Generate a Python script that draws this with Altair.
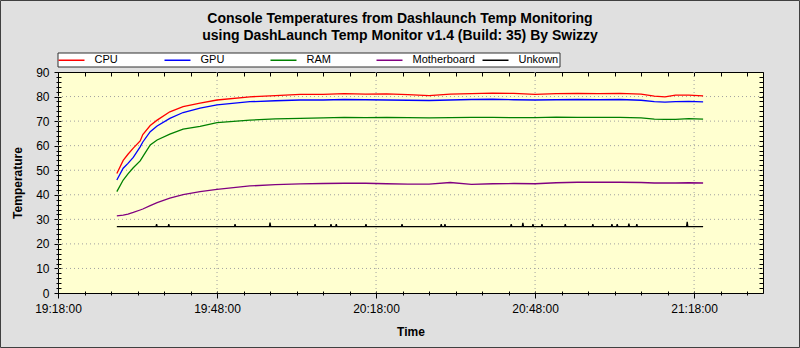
import altair as alt
import pandas as pd

FONT = "Liberation Sans"
DAY = "2024-01-01"

times = ["19:29:06", "19:30:18", "19:31:12", "19:32:12", "19:33:30", "19:34:00", "19:35:24",
         "19:36:42", "19:39:06", "19:41:36", "19:44:48", "19:48:00", "19:54:12", "19:59:00",
         "20:03:42", "20:08:00", "20:12:00", "20:16:00", "20:20:00", "20:24:00", "20:28:00",
         "20:32:00", "20:36:00", "20:40:00", "20:44:00", "20:48:00", "20:52:00", "20:56:00",
         "21:00:00", "21:04:00", "21:08:00", "21:10:30", "21:12:30", "21:14:30", "21:17:00",
         "21:19:42"]

cpu = [48.7, 54.0, 56.5, 59.0, 61.9, 64.5, 68.2, 70.4, 73.8, 75.9, 77.3, 78.6, 79.9, 80.4,
       80.9, 80.9, 81.2, 81.0, 81.1, 80.8, 80.4, 81.0, 81.2, 81.4, 81.3, 80.9, 81.2, 81.3,
       81.2, 81.3, 81.0, 80.2, 79.9, 80.6, 80.6, 80.3]
gpu = [46.0, 50.8, 52.8, 55.2, 59.5, 61.5, 65.7, 68.0, 71.1, 73.5, 75.3, 76.6, 77.9, 78.3,
       78.6, 78.6, 78.8, 78.7, 78.6, 78.5, 78.4, 78.6, 78.8, 78.9, 78.7, 78.6, 78.7, 78.8,
       78.7, 78.8, 78.5, 77.9, 77.7, 77.9, 78.0, 77.8]
ram = [41.3, 46.0, 48.5, 51.0, 53.8, 55.5, 60.3, 62.3, 64.7, 66.7, 67.9, 69.4, 70.4, 70.9,
       71.1, 71.3, 71.5, 71.4, 71.5, 71.4, 71.3, 71.4, 71.5, 71.5, 71.4, 71.4, 71.6, 71.5,
       71.5, 71.5, 71.3, 70.8, 70.7, 70.7, 71.0, 70.8]
motherboard = [31.4, 31.7, 32.1, 32.8, 33.8, 34.2, 35.6, 36.8, 38.6, 40.1, 41.3, 42.2, 43.6,
               44.1, 44.4, 44.6, 44.7, 44.7, 44.5, 44.3, 44.3, 45.0, 44.2, 44.5, 44.6, 44.5,
               44.9, 45.1, 45.1, 45.1, 45.0, 44.8, 44.8, 44.8, 44.9, 44.8]

unknown_base = 27.0
unknown_spike_times = ["19:36:36", "19:38:54", "19:51:24", "19:58:00", "20:06:30", "20:09:30",
                       "20:10:30", "20:16:06", "20:22:54", "20:30:18", "20:31:00", "20:43:30",
                       "20:45:42", "20:47:36", "20:49:18", "20:53:42", "20:58:54", "21:02:30",
                       "21:03:30", "21:05:42", "21:07:12", "21:16:42"]
unknown_spike_values = [28, 28, 28, 28.7, 28, 28, 28, 28, 28, 28, 28, 28, 28.6, 28, 28, 28,
                        28, 28, 28, 28.3, 28, 29]

series_names = ["CPU", "GPU", "RAM", "Motherboard", "Unkown"]
series_colors = ["#ff0000", "#0000ff", "#008000", "#800080", "#000000"]

grid_times = ["19:48:00", "20:18:00", "20:48:00", "21:18:00"]
grid_values = [10, 20, 30, 40, 50, 60, 70, 80]

records = []
for name, vals in (("CPU", cpu), ("GPU", gpu), ("RAM", ram), ("Motherboard", motherboard)):
    for t, v in zip(times, vals):
        records.append({"time": f"{DAY}T{t}", "value": v, "series": name})

unk = [(pd.Timestamp(f"{DAY}T{times[0]}"), unknown_base)]
for t, v in zip(unknown_spike_times, unknown_spike_values):
    ts = pd.Timestamp(f"{DAY}T{t}")
    unk += [(ts - pd.Timedelta(seconds=7), unknown_base), (ts, v),
            (ts + pd.Timedelta(seconds=7), unknown_base)]
unk.append((pd.Timestamp(f"{DAY}T{times[-1]}"), unknown_base))
for ts, v in unk:
    records.append({"time": ts.strftime("%Y-%m-%dT%H:%M:%S"), "value": v, "series": "Unkown"})
df = pd.DataFrame(records)

gx_df = pd.DataFrame({"time": [f"{DAY}T{t}" for t in grid_times]})
gy_df = pd.DataFrame({"value": grid_values})


def dt(total_min):
    return alt.DateTime(year=2024, month=1, date=1, hours=total_min // 60, minutes=total_min % 60)


start_min = 19 * 60 + 18
x_ticks = [dt(start_min + 5 * i) for i in range(27)]
y_ticks = list(range(0, 91, 2))
x_scale = alt.Scale(domain=[dt(start_min), dt(21 * 60 + 31)], nice=False)
y_scale = alt.Scale(domain=[0, 90], nice=False)

XMAJ = "minutes(datum.value) % 30 == 18"
YMAJ = "datum.value % 10 == 0"

x_axis = alt.Axis(
    title="Time", values=x_ticks, format="%H:%M:%S",
    labelExpr=f"{XMAJ} ? datum.label : ''",
    tickSize={"condition": {"test": XMAJ, "value": 7}, "value": 4},
    grid=False, offset=-2, domain=False, tickColor="black", tickWidth=1,
    labelFont=FONT, labelFontSize=12, labelColor="black", labelPadding=5,
    labelFlush=False, labelOverlap=False,
    titleFont=FONT, titleFontSize=12, titleFontWeight="bold", titleColor="black",
    titleX=352.5, titleY=44.5, titleAlign="center", titleBaseline="alphabetic",
)
y_axis = alt.Axis(
    title="Temperature", values=y_ticks,
    labelExpr=f"{YMAJ} ? datum.label : ''",
    tickSize={"condition": {"test": YMAJ, "value": 7}, "value": 5},
    grid=False, offset=-3, domain=False, tickColor="black", tickWidth=1,
    labelFont=FONT, labelFontSize=12, labelColor="black", labelPadding=5,
    labelFlush=False, labelOverlap=False,
    titleFont=FONT, titleFontSize=12, titleFontWeight="bold", titleColor="black",
    titleX=-40, titleY=110.5, titleAngle=-90, titleAlign="center", titleBaseline="alphabetic",
)
top_axis = alt.Axis(orient="top", values=x_ticks, labels=False, domain=False, grid=False,
                    tickSize=4, offset=-4, title=None, tickColor="black")
right_axis = alt.Axis(orient="right", values=y_ticks, labels=False, domain=False, grid=False,
                      tickSize=4, offset=-4, title=None, tickColor="black")

NBSP_PAD = "\u00a0" * 9
legend = alt.Legend(
    title=None, orient="none", legendX=-0.5, legendY=-19.5, direction="horizontal",
    columns=5, gridAlign="all", symbolType="M-2.3636,0H2.3636", symbolSize=121,
    symbolStrokeWidth=1.5, symbolOffset=6.5,
    labelFont=FONT, labelFontSize=11, labelColor="black", labelOffset=16.5, labelLimit=0,
    labelExpr=f"datum.label == 'Unkown' ? 'Unkown{NBSP_PAD}' : datum.label",
    columnPadding=4, padding=1, fillColor="white", strokeColor="#303030",
)

grid_x = alt.Chart(gx_df).mark_rule(color="#a0a0a0", strokeDash=[1, 3], strokeWidth=1).encode(
    x=alt.X("time:T", scale=x_scale, axis=None)
)
grid_y = alt.Chart(gy_df).mark_rule(color="#a0a0a0", strokeDash=[1, 3], strokeWidth=1).encode(
    y=alt.Y("value:Q", scale=y_scale, axis=None)
)

lines = alt.Chart(df).mark_line(strokeWidth=1.3).encode(
    x=alt.X("time:T", scale=x_scale, axis=x_axis),
    y=alt.Y("value:Q", scale=y_scale, axis=y_axis),
    color=alt.Color("series:N", scale=alt.Scale(domain=series_names, range=series_colors),
                    legend=legend),
)

mirror = alt.Chart(df).mark_point(opacity=0).encode(
    x=alt.X("time:T", scale=x_scale, axis=top_axis),
    y=alt.Y("value:Q", scale=y_scale, axis=right_axis),
)

frame = alt.Chart(pd.DataFrame({"k": [0]})).mark_rect(
    fillOpacity=0, stroke="#404040", strokeWidth=1
).encode(x=alt.value(-57.5), x2=alt.value(741.5), y=alt.value(-71.5), y2=alt.value(275.5))

chart = alt.layer(grid_x, grid_y, lines, mirror, frame).resolve_scale(
    x="independent", y="independent"
).properties(
    width=705, height=221,
    title=alt.TitleParams(
        text=["Console Temperatures from Dashlaunch Temp Monitoring",
              "using DashLaunch Temp Monitor v1.4 (Build: 35) By Swizzy"],
        font=FONT, fontSize=14, fontWeight="bold", color="black",
        anchor="middle", frame="group", dx=-10.5, offset=0, dy=42.5, lineHeight=17,
    ),
    autosize=alt.AutoSizeParams(type="none"),
    padding={"left": 58, "top": 72, "right": 37, "bottom": 55},
).configure(background="#e0e0e0").configure_view(fill="#ffffd0", stroke="#000000", strokeWidth=1)

chart.save("out.html", embed_options={"renderer": "svg", "actions": False})
